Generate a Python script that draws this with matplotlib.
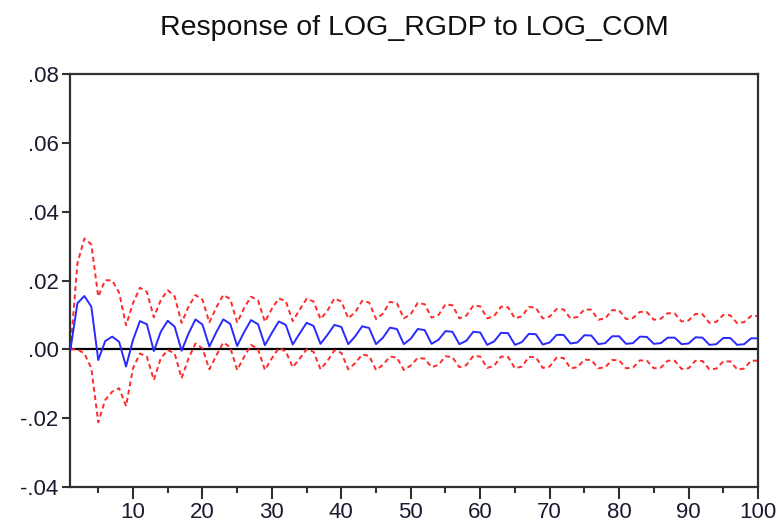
import matplotlib
matplotlib.use("Agg")
import matplotlib.pyplot as plt
from matplotlib.ticker import FuncFormatter, MultipleLocator
import numpy as np

# impulse response periods
periods = np.arange(1, 101)

# response (one row = 4 periods)
response = [
    0.0000, 0.0134, 0.0155, 0.0124,
    -0.0031, 0.0024, 0.0037, 0.0022,
    -0.0050, 0.0027, 0.0082, 0.0073,
    -0.0005, 0.0051, 0.0083, 0.0066,
    -0.0004, 0.0046, 0.0087, 0.0072,
    0.0008, 0.0050, 0.0087, 0.0074,
    0.0010, 0.0050, 0.0085, 0.0073,
    0.0012, 0.0048, 0.0081, 0.0071,
    0.0014, 0.0046, 0.0077, 0.0068,
    0.0016, 0.0042, 0.0071, 0.0065,
    0.0015, 0.0038, 0.0067, 0.0062,
    0.0015, 0.0034, 0.0063, 0.0059,
    0.0015, 0.0031, 0.0059, 0.0056,
    0.0016, 0.0028, 0.0053, 0.0051,
    0.0015, 0.0025, 0.0051, 0.0049,
    0.0013, 0.0023, 0.0048, 0.0047,
    0.0013, 0.0021, 0.0045, 0.0044,
    0.0014, 0.0020, 0.0042, 0.0042,
    0.0017, 0.0020, 0.0041, 0.0040,
    0.0015, 0.0018, 0.0038, 0.0038,
    0.0016, 0.0018, 0.0037, 0.0036,
    0.0016, 0.0018, 0.0034, 0.0034,
    0.0015, 0.0017, 0.0035, 0.0034,
    0.0013, 0.0015, 0.0033, 0.0033,
    0.0013, 0.0015, 0.0032, 0.0032,
]

upper = [
    0.0000, 0.0250, 0.0322, 0.0305,
    0.0153, 0.0201, 0.0200, 0.0165,
    0.0070, 0.0134, 0.0179, 0.0167,
    0.0093, 0.0143, 0.0172, 0.0154,
    0.0077, 0.0124, 0.0158, 0.0144,
    0.0078, 0.0122, 0.0158, 0.0146,
    0.0078, 0.0120, 0.0153, 0.0142,
    0.0080, 0.0118, 0.0148, 0.0140,
    0.0082, 0.0115, 0.0147, 0.0139,
    0.0088, 0.0112, 0.0148, 0.0139,
    0.0090, 0.0108, 0.0141, 0.0136,
    0.0088, 0.0104, 0.0138, 0.0134,
    0.0090, 0.0102, 0.0135, 0.0131,
    0.0092, 0.0100, 0.0131, 0.0128,
    0.0090, 0.0098, 0.0127, 0.0125,
    0.0090, 0.0097, 0.0124, 0.0122,
    0.0090, 0.0096, 0.0123, 0.0121,
    0.0090, 0.0095, 0.0117, 0.0116,
    0.0090, 0.0094, 0.0116, 0.0115,
    0.0086, 0.0090, 0.0114, 0.0113,
    0.0088, 0.0091, 0.0109, 0.0108,
    0.0086, 0.0089, 0.0105, 0.0104,
    0.0081, 0.0084, 0.0103, 0.0102,
    0.0077, 0.0080, 0.0100, 0.0099,
    0.0076, 0.0079, 0.0097, 0.0097,
]

lower = [
    0.0000, 0.0000, -0.0012, -0.0055,
    -0.0212, -0.0147, -0.0123, -0.0113,
    -0.0165, -0.0055, -0.0012, -0.0021,
    -0.0089, -0.0026, -0.0002, -0.0012,
    -0.0084, -0.0026, 0.0017, 0.0003,
    -0.0058, -0.0018, 0.0020, 0.0006,
    -0.0060, -0.0022, 0.0013, 0.0001,
    -0.0060, -0.0026, 0.0004, -0.0006,
    -0.0052, -0.0027, 0.0000, -0.0007,
    -0.0058, -0.0034, -0.0003, -0.0010,
    -0.0058, -0.0040, -0.0015, -0.0019,
    -0.0060, -0.0045, -0.0021, -0.0024,
    -0.0060, -0.0047, -0.0025, -0.0027,
    -0.0052, -0.0045, -0.0020, -0.0023,
    -0.0052, -0.0046, -0.0019, -0.0021,
    -0.0054, -0.0048, -0.0021, -0.0022,
    -0.0055, -0.0050, -0.0022, -0.0023,
    -0.0054, -0.0050, -0.0024, -0.0025,
    -0.0055, -0.0052, -0.0030, -0.0031,
    -0.0055, -0.0052, -0.0031, -0.0032,
    -0.0055, -0.0053, -0.0032, -0.0033,
    -0.0055, -0.0053, -0.0033, -0.0033,
    -0.0057, -0.0055, -0.0033, -0.0034,
    -0.0058, -0.0056, -0.0035, -0.0035,
    -0.0058, -0.0056, -0.0033, -0.0033,
]

title = "Response of LOG_RGDP to LOG_COM"

plt.rcParams['font.family'] = ['Liberation Sans', 'DejaVu Sans']

fig = plt.figure(figsize=(7.78, 5.30), dpi=100)
ax = fig.add_axes([0.0906, 0.0811, 0.8837, 0.7793])

ax.axhline(0, color='black', lw=1.6, zorder=1)
ax.plot(periods, upper, color='#ff2a2a', lw=1.4, ls=(0, (2.5, 1.8)), zorder=2)
ax.plot(periods, lower, color='#ff2a2a', lw=1.4, ls=(0, (2.5, 1.8)), zorder=2)
ax.plot(periods, response, color='#2a2aff', lw=1.4, zorder=3)

ax.set_xlim(1, 100)
ax.set_ylim(-0.04, 0.08)
ax.xaxis.set_major_locator(MultipleLocator(10))
ax.xaxis.set_minor_locator(MultipleLocator(5))
ax.yaxis.set_major_locator(MultipleLocator(0.02))

def fmt(v, pos):
    s = "%.2f" % v
    return s.replace("0.", ".", 1)

ax.yaxis.set_major_formatter(FuncFormatter(fmt))
ax.xaxis.set_major_formatter(FuncFormatter(lambda v, p: "%d" % v))

for sp in ax.spines.values():
    sp.set_color('#303030')
    sp.set_linewidth(1.6)

ax.tick_params(axis='both', which='major', direction='out', width=1.5,
               color='#303030', labelsize=16, labelcolor='#1a1a30')
ax.tick_params(axis='x', which='major', length=8.5, pad=2)
ax.tick_params(axis='x', which='minor', direction='out', length=4.5, width=1.5, color='#303030')
ax.tick_params(axis='y', which='major', length=6, pad=2.5)

ax.set_title(title, fontsize=20.5, color='#111111', pad=28)

fig.savefig("out.png", dpi=100)
